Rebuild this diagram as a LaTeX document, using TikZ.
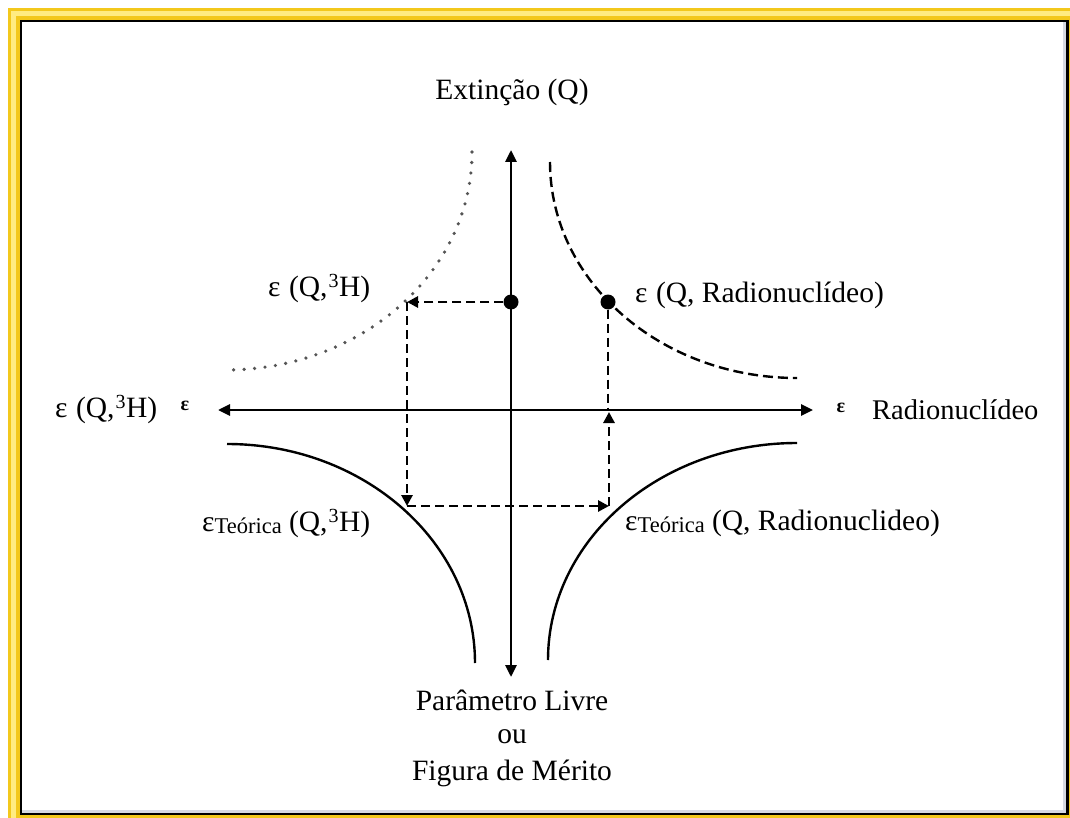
\documentclass[tikz,border=0pt]{standalone}
\usepackage{fontspec}
\setmainfont{Liberation Serif}
\usetikzlibrary{arrows.meta}
\definecolor{yel}{RGB}{243,200,28}
\definecolor{yelpale}{RGB}{255,236,130}
\definecolor{shadowgray}{RGB}{214,217,226}
\definecolor{dotgray}{RGB}{85,85,85}
\newcommand{\supthree}{\hspace{1pt}\raisebox{9pt}{\fontsize{20}{20}\selectfont 3}\hspace{0.5pt}}
\newcommand{\teorica}{\raisebox{-2pt}{\fontsize{22.5}{22}\selectfont Teórica}}
\newcommand{\eps}{ε\hspace{8.5pt}}
\begin{document}
\begin{tikzpicture}[x=1pt,y=-1pt,
  lbl/.style={font=\fontsize{29.5}{33}\selectfont, inner sep=0pt},
  axisline/.style={line width=2.8pt},
  dashline/.style={line width=2.8pt, dash pattern=on 9pt off 5pt},
  tip/.style={-{Triangle[length=11pt,width=11pt]}},
  solidcurve/.style={line width=2.4pt},
  dashcurve/.style={line width=2.4pt, dash pattern=on 10pt off 5pt},
  dotcurve/.style={dotgray, line width=3.6pt, line cap=round, dash pattern=on 0pt off 10.5pt},
  bigdot/.style={circle, fill=black, minimum size=15pt, inner sep=0pt},
  smallmark/.style={font=\bfseries\fontsize{20}{20}\selectfont, inner sep=0pt}
]
% frame
\useasboundingbox (0,0) rectangle (1070,818);
\fill[white] (0,0) rectangle (1070,818);
\fill[yel] (8,8) rectangle (1070,818);
\fill[yelpale] (11,11) rectangle (1070,818);
\fill[yel] (16,16) rectangle (1070,818);
\fill[white] (20,20) rectangle (1067,814);
\draw[shadowgray, line width=3pt] (1064.5,22) -- (1064.5,811.5) -- (22,811.5);
\draw[black, line width=2.2pt] (21,21) rectangle (1067.5,814);

% key points
\coordinate (vtop) at (511,150);
\coordinate (vbot) at (511,677);
\coordinate (hleft) at (218,410);
\coordinate (hright) at (813,410);
\node[bigdot] (d1) at (511,302) {};
\node[bigdot] (d2) at (608,302) {};
\coordinate (c1) at (407,302);
\coordinate (c2) at (407,506);
\coordinate (c3) at (609,506);
\coordinate (c4) at (609,412);
\coordinate (c5) at (608,410);

% axes
\draw[axisline, {Triangle[length=12pt,width=11pt]}-{Triangle[length=12pt,width=11pt]}] (vtop) -- (vbot);
\draw[axisline, {Triangle[length=12pt,width=11pt]}-{Triangle[length=12pt,width=11pt]}] (hleft) -- (hright);

% curves
\draw[dotcurve] (472,152) .. controls (472,272.4) and (361.4,370) .. (225,370);
\draw[dashcurve] (550,162) .. controls (550,281.3) and (660.6,378) .. (797,378);
\draw[solidcurve] (227,444) .. controls (363.9,444) and (475,542.1) .. (475,663);
\draw[solidcurve] (797,443) .. controls (659.5,443) and (548,540.2) .. (548,660);

% dashed construction lines
\draw[dashline, tip] (d1) -- (c1);
\draw[dashline, tip] (c1) -- (c2);
\draw[dashline, tip] (c2) -- (c3);
\draw[dashline, tip] (c3) -- (c4);
\draw[dashline] (d2) -- (c5);

% labels
\node[lbl] (ext) at (512,92) {Extinção (Q)};
\node[lbl, anchor=west] (eqh) at (268,289) {\eps(Q,\supthree H)};
\node[lbl, anchor=west] (eqr) at (635,295) {\eps(Q, Radionuclídeo)};
\node[lbl, anchor=west] (lax) at (55,410) {\eps(Q,\supthree H)};
\node[lbl, anchor=west, font=\fontsize{28.5}{33}\selectfont] (rax) at (872,410) {Radionuclídeo};
\node[smallmark] (m1) at (185,406) {ε};
\node[smallmark] (m2) at (841,408) {ε};
\node[lbl, anchor=west] (tqh) at (202,524) {ε\teorica\ (Q,\supthree H)};
\node[lbl, anchor=west] (tqr) at (625,523) {ε\teorica\ (Q, Radionuclideo)};
\node[lbl] (p1) at (512,700) {Parâmetro Livre};
\node[lbl] (p2) at (512,737) {ou};
\node[lbl] (p3) at (512,773) {Figura de Mérito};
\end{tikzpicture}
\end{document}
